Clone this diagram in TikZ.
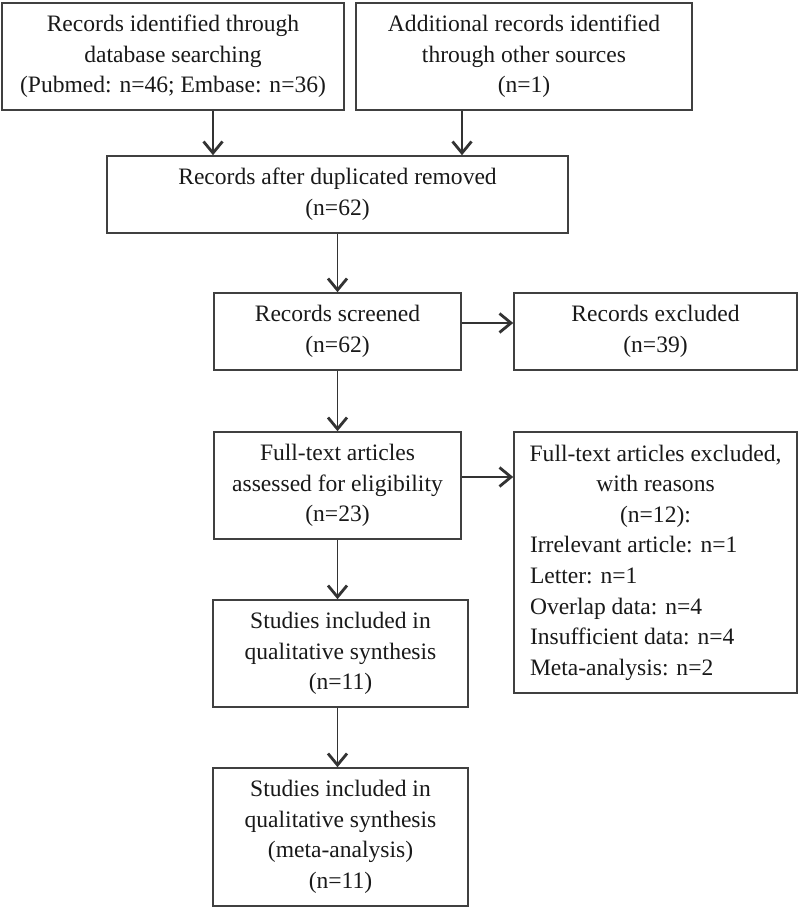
\documentclass[tikz,border=0pt]{standalone}
\usepackage{fontspec}
\setmainfont{Liberation Serif}
\usetikzlibrary{arrows.meta}

\begin{document}
\begin{tikzpicture}[
  box/.style={draw=black!75, line width=0.9pt, align=center, inner sep=0pt,
    text=black!90, font=\fontsize{13.4}{17.4}\selectfont},
  arr/.style={draw=black!80, line width=0.9pt,
    -{Straight Barb[length=2.3mm, width=3.8mm, line width=1.6pt]}}
]
  \useasboundingbox (0,0) rectangle (16,-18.16);
  \coordinate (xa) at (4.26,0);
  \coordinate (xb) at (9.24,0);
  \coordinate (ya) at (0,-6.46);
  \coordinate (yb) at (0,-9.54);
  \node[box, minimum width=6.84cm, minimum height=2.14cm] (db) at (3.46,-1.13)
    {Records identified through\\database searching\\(Pubmed: n=46; Embase: n=36)};
  \node[box, minimum width=6.72cm, minimum height=2.14cm] (other) at (10.48,-1.13)
    {Additional records identified\\through other sources\\(n=1)};
  \node[box, minimum width=9.22cm, minimum height=1.54cm] (dup) at (6.75,-3.89)
    {Records after duplicated removed\\(n=62)};
  \node[box, minimum width=4.94cm, minimum height=1.54cm] (screen) at (6.75,-6.63)
    {Records screened\\(n=62)};
  \node[box, minimum width=5.66cm, minimum height=1.54cm] (excl) at (13.11,-6.63)
    {Records excluded\\(n=39)};
  \node[box, minimum width=4.94cm, minimum height=2.14cm] (full) at (6.75,-9.71)
    {Full-text articles\\assessed for eligibility\\(n=23)};
  \node[box, minimum width=5.66cm, minimum height=5.22cm] (fexcl) at (13.11,-11.25)
    {Full-text articles excluded,\\with reasons\\(n=12):\\
     \makebox[5.02cm][l]{Irrelevant article: n=1}\\
     \makebox[5.02cm][l]{Letter: n=1}\\
     \makebox[5.02cm][l]{Overlap data: n=4}\\
     \makebox[5.02cm][l]{Insufficient data: n=4}\\
     \makebox[5.02cm][l]{Meta-analysis: n=2}};
  \node[box, minimum width=5.10cm, minimum height=2.14cm] (qual) at (6.81,-13.07)
    {Studies included in\\qualitative synthesis\\(n=11)};
  \node[box, minimum width=5.10cm, minimum height=2.76cm] (meta) at (6.81,-16.74)
    {Studies included in\\qualitative synthesis\\(meta-analysis)\\(n=11)};
  \draw[arr] (xa |- db.south) -- (xa |- dup.north);
  \draw[arr] (xb |- other.south) -- (xb |- dup.north);
  \draw[arr] (dup.south) -- (screen.north);
  \draw[arr] (screen.east |- ya) -- (excl.west |- ya);
  \draw[arr] (screen.south) -- (full.north);
  \draw[arr] (full.east |- yb) -- (fexcl.west |- yb);
  \draw[arr] (full.south) -- (full.south |- qual.north);
  \draw[arr] (full.south |- qual.south) -- (full.south |- meta.north);
\end{tikzpicture}
\end{document}
